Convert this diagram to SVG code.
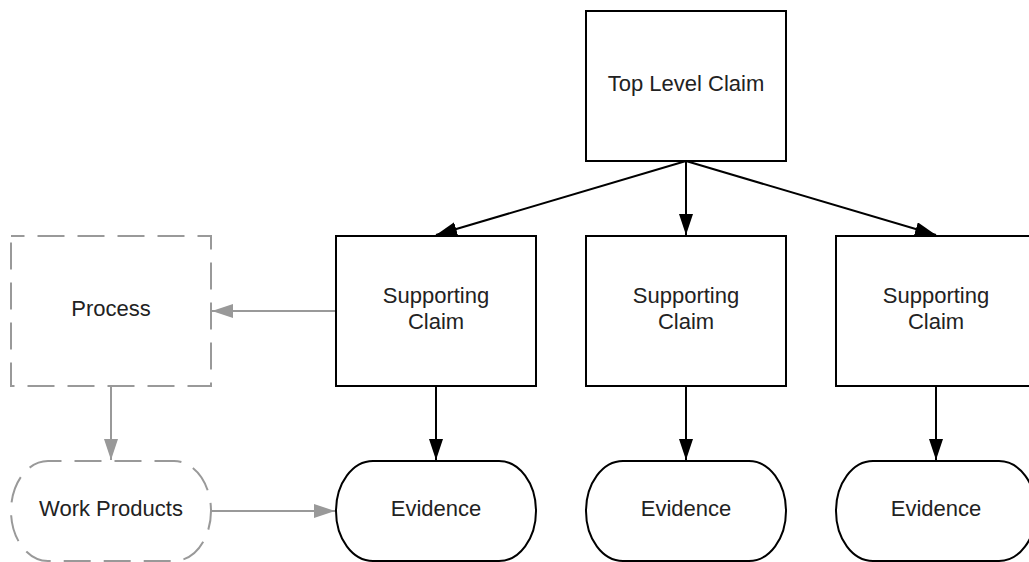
<svg xmlns="http://www.w3.org/2000/svg" width="1029" height="562" viewBox="0 0 1029 562">
<style>
  .box{fill:#fff;stroke:#000;stroke-width:2}
  .dash{fill:#fff;stroke:#999;stroke-width:2;stroke-dasharray:27 13;stroke-dashoffset:13.5}
  .t{font-family:"Liberation Sans",Arial,sans-serif;font-size:22px;fill:#222;text-anchor:middle}
  .c{stroke:#000;stroke-width:2;fill:none;marker-end:url(#ab)}
  .g{stroke:#999;stroke-width:2;fill:none;marker-end:url(#ag)}
</style>
<defs>
  <marker id="ab" markerUnits="userSpaceOnUse" markerWidth="22" markerHeight="16" refX="21" refY="7" orient="auto">
    <path d="M0,0 L21,7 L0,14 z" fill="#000"/>
  </marker>
  <marker id="ag" markerUnits="userSpaceOnUse" markerWidth="22" markerHeight="16" refX="21" refY="7" orient="auto">
    <path d="M0,0 L21,7 L0,14 z" fill="#999"/>
  </marker>
</defs>
<rect width="1029" height="562" fill="#fff"/>
<g id="connectors">
  <line class="c" x1="686" y1="161" x2="436" y2="235"/>
  <line class="c" x1="686" y1="161" x2="686" y2="235"/>
  <line class="c" x1="686" y1="161" x2="936" y2="235"/>
  <line class="c" x1="436" y1="386" x2="436" y2="460"/>
  <line class="c" x1="686" y1="386" x2="686" y2="460"/>
  <line class="c" x1="936" y1="386" x2="936" y2="460"/>
  <line class="g" x1="336" y1="311" x2="212" y2="311"/>
  <line class="g" x1="111" y1="386" x2="111" y2="460"/>
  <line class="g" x1="211" y1="511" x2="335" y2="511"/>
</g>
<g id="top">
  <rect class="box" x="586" y="11" width="200" height="150"/>
  <text class="t" x="686" y="91">Top Level Claim</text>
</g>
<g id="sc1">
  <rect class="box" x="336" y="236" width="200" height="150"/>
  <text class="t" x="436" y="303">Supporting</text>
  <text class="t" x="436" y="329">Claim</text>
</g>
<g id="sc2">
  <rect class="box" x="586" y="236" width="200" height="150"/>
  <text class="t" x="686" y="303">Supporting</text>
  <text class="t" x="686" y="329">Claim</text>
</g>
<g id="sc3">
  <rect class="box" x="836" y="236" width="200" height="150"/>
  <text class="t" x="936" y="303">Supporting</text>
  <text class="t" x="936" y="329">Claim</text>
</g>
<g id="process">
  <rect class="dash" x="11" y="236" width="200" height="150"/>
  <text class="t" x="111" y="316">Process</text>
</g>
<g id="workproducts">
  <rect class="dash" x="11" y="461" width="200" height="100" rx="37" ry="50"/>
  <text class="t" x="111" y="516">Work Products</text>
</g>
<g id="ev1">
  <rect class="box" x="336" y="461" width="200" height="100" rx="37" ry="50"/>
  <text class="t" x="436" y="516">Evidence</text>
</g>
<g id="ev2">
  <rect class="box" x="586" y="461" width="200" height="100" rx="37" ry="50"/>
  <text class="t" x="686" y="516">Evidence</text>
</g>
<g id="ev3">
  <rect class="box" x="836" y="461" width="200" height="100" rx="37" ry="50"/>
  <text class="t" x="936" y="516">Evidence</text>
</g>
</svg>
